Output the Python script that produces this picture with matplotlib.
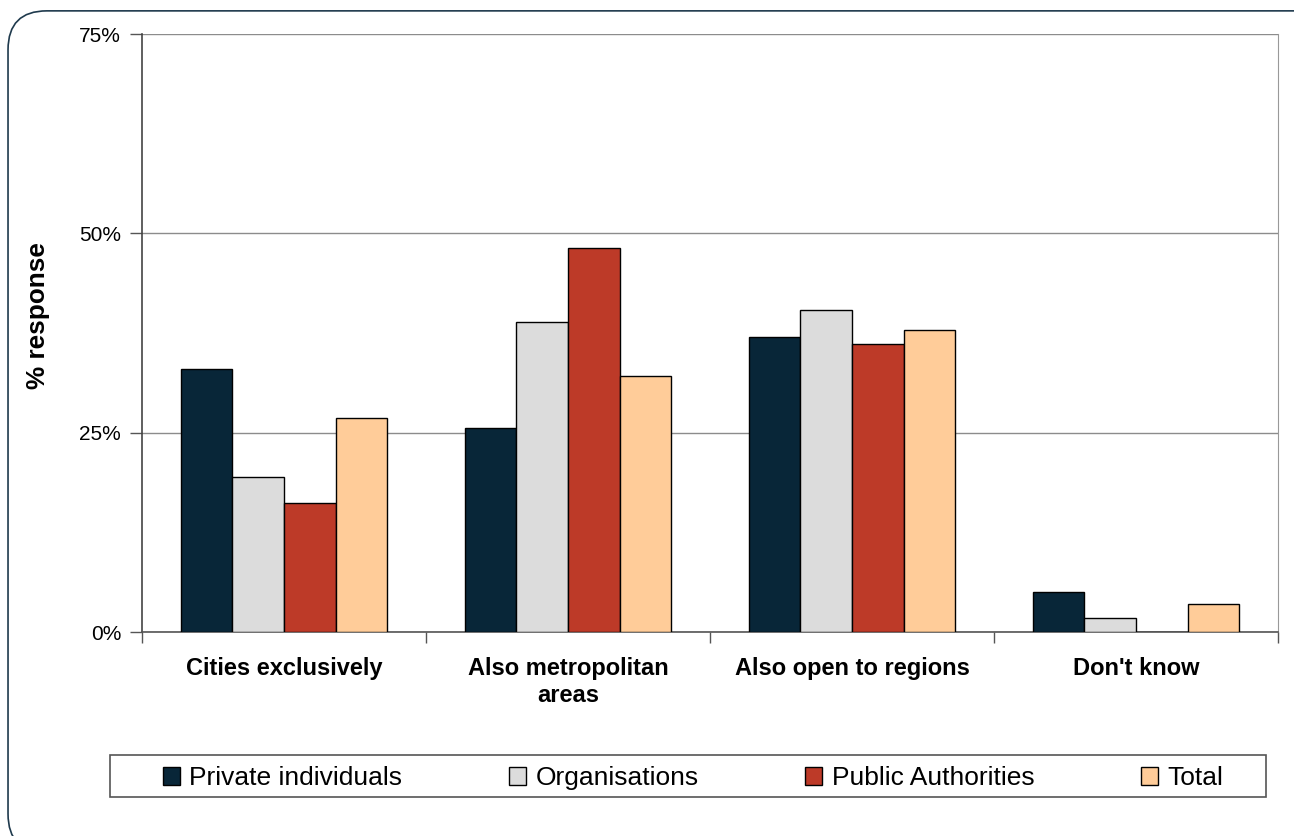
import numpy as np
import matplotlib.pyplot as plt
from matplotlib.patches import FancyBboxPatch, Rectangle
from matplotlib.ticker import FuncFormatter

plt.rcParams['font.family'] = ['Liberation Sans', 'DejaVu Sans']

categories = ['Cities exclusively', 'Also metropolitan\nareas',
              'Also open to regions', "Don't know"]
series = ['Private individuals', 'Organisations', 'Public Authorities', 'Total']
private_vals = [33.0, 25.6, 37.0, 5.0]
org_vals = [19.4, 38.9, 40.4, 1.8]
public_vals = [16.2, 48.2, 36.1, 0.0]
total_vals = [26.8, 32.1, 37.9, 3.5]
colors = ['#082638', '#dcdcdc', '#bd3a28', '#ffcc99']

fig = plt.figure(figsize=(12.94, 8.36), dpi=100)
ax = fig.add_axes([0.1097, 0.244, 0.8779, 0.7153])

# rounded outer frame
frame = FancyBboxPatch((0.0062, -0.02), 1.05, 1.007,
                       boxstyle='round,pad=0,rounding_size=0.03',
                       transform=fig.transFigure, fill=False,
                       edgecolor='#1f3a4d', linewidth=1.2, clip_on=False,
                       mutation_aspect=1.55)
fig.patches.append(frame)

x = np.arange(len(categories))
w = 0.182
all_vals = [private_vals, org_vals, public_vals, total_vals]
for i, (vals, name, c) in enumerate(zip(all_vals, series, colors)):
    ax.bar(x + (i - 1.5) * w, vals, width=w, color=c, edgecolor='black',
           linewidth=1.0, label=name, zorder=3)

ax.set_xlim(-0.5, 3.5)
ax.set_ylim(0, 75)
ax.set_yticks([0, 25, 50, 75])
ax.yaxis.set_major_formatter(FuncFormatter(lambda v, p: '%d%%' % v))
ax.yaxis.grid(True, color='#8c8c8c', linewidth=1.0, zorder=0)
ax.tick_params(axis='y', labelsize=15, length=9, width=1.0,
               color='#555555', pad=6)

ax.set_xticks(x)
ax.set_xticklabels(categories, fontsize=17, fontweight='bold')
ax.set_xticks(np.arange(-0.5, 4.0, 1.0), minor=True)
ax.tick_params(axis='x', which='major', length=0, pad=18)
ax.tick_params(axis='x', which='minor', length=8, width=1.0,
               color='#555555', direction='out')

ax.spines['left'].set_color('#444444')
ax.spines['bottom'].set_color('#555555')
ax.spines['top'].set_visible(False)
ax.spines['right'].set_color('#999999')
ax.spines['left'].set_linewidth(1.2)
ax.spines['bottom'].set_linewidth(1.2)

fig.text(38 / 1294, 1 - 316 / 836, '% response', rotation=90,
         ha='center', va='center', fontsize=18.8, fontweight='bold')

# legend box
fig.patches.append(Rectangle((110 / 1294, 1 - 797 / 836), 1156 / 1294,
                             42 / 836, transform=fig.transFigure,
                             fill=False, edgecolor='#555555', linewidth=1.2))
leg = fig.legend(loc='center left',
                 bbox_to_anchor=(163 / 1294, 1 - 799 / 836,
                                 1060 / 1294, 42 / 836),
                 mode='expand', ncol=4, fontsize=19, frameon=False,
                 handlelength=0.65, handleheight=0.65, handletextpad=0.35,
                 borderaxespad=0, borderpad=0)

fig.savefig('out.png', dpi=100)
